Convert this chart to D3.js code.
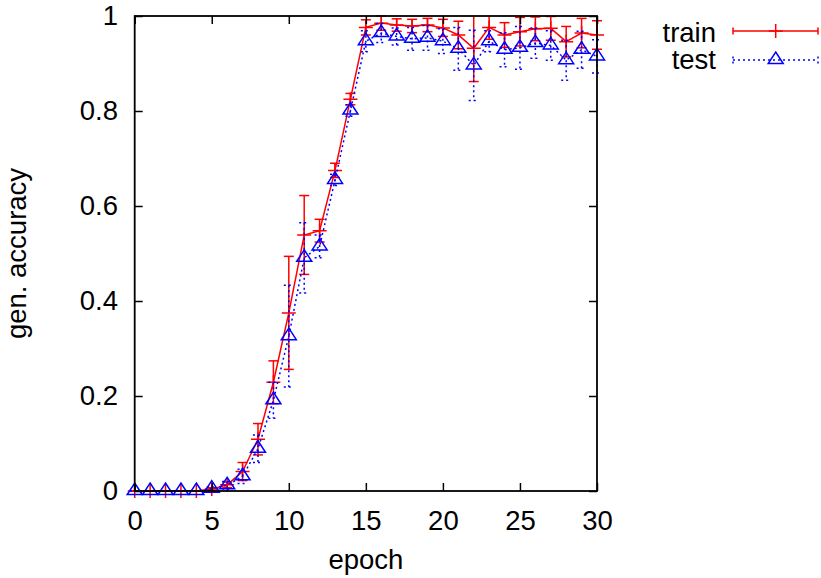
<!DOCTYPE html>
<meta charset="utf-8">
<style>
body { margin: 0; background: #fff; }
text { font-family: "Liberation Sans", Arial, Helvetica, sans-serif; font-size: 27.5px; fill: #000; }
</style>
<body>
<script src="https://cdn.jsdelivr.net/npm/d3@7"></script>
<script>
// data
var epochs = [0,1,2,3,4,5,6,7,8,9,10,11,12,13,14,15,16,17,18,19,20,21,22,23,24,25,26,27,28,29,30];
var trainAcc = [0,0,0,0,0,0.004,0.013,0.041,0.109,0.229,0.375,0.539,0.548,0.675,0.825,0.976,0.985,0.981,0.979,0.981,0.975,0.960,0.932,0.976,0.960,0.967,0.973,0.974,0.946,0.964,0.960];
var trainErr = [0,0,0,0,0,0.003,0.006,0.019,0.033,0.045,0.119,0.083,0.024,0.015,0.012,0.016,0.015,0.013,0.014,0.014,0.018,0.029,0.070,0.025,0.026,0.030,0.025,0.025,0.032,0.031,0.030];
var testAcc = [0,0,0,0,0,0.005,0.012,0.031,0.089,0.191,0.326,0.491,0.515,0.655,0.801,0.947,0.964,0.957,0.952,0.954,0.947,0.931,0.896,0.947,0.929,0.933,0.943,0.938,0.907,0.929,0.915];
var testErr = [0,0,0,0,0,0.004,0.008,0.015,0.029,0.038,0.107,0.074,0.024,0.012,0.012,0.022,0.020,0.018,0.024,0.026,0.026,0.045,0.074,0.022,0.036,0.045,0.032,0.031,0.042,0.039,0.035];
var xTicks = [0,5,10,15,20,25,30];
var xTickLabels = ["0","5","10","15","20","25","30"];
var yTicks = [0,0.2,0.4,0.6,0.8,1];
var yTickLabels = ["0","0.2","0.4","0.6","0.8","1"];
var seriesNames = ["train","test"];

var W = 821, H = 578;
var pl = 134.7, pr = 597, pt = 16, pb = 491;

var x = d3.scaleLinear().domain([0, 30]).range([pl, pr]);
var y = d3.scaleLinear().domain([0, 1]).range([pb, pt]);

var svg = d3.select("body").append("svg")
    .attr("width", W)
    .attr("height", H);
svg.append("rect").attr("width", W).attr("height", H).attr("fill", "#fff");

var train = epochs.map(function(e, i) { return {e: e, v: trainAcc[i], s: trainErr[i]}; });
var test = epochs.map(function(e, i) { return {e: e, v: testAcc[i], s: testErr[i]}; });

function errorbars(g, data, color, dash) {
  var capW = 5;
  data.forEach(function(d) {
    var hi = Math.min(1, d.v + d.s), lo = Math.max(0, d.v - d.s);
    g.append("line")
      .attr("x1", x(d.e)).attr("x2", x(d.e))
      .attr("y1", y(hi)).attr("y2", y(lo))
      .attr("stroke", color).attr("stroke-width", 1.5)
      .attr("stroke-dasharray", dash);
    [[hi, d.v + d.s <= 1], [lo, d.v - d.s >= 0]].forEach(function(c) {
      if (!c[1]) return;
      g.append("line")
        .attr("x1", x(d.e) - capW).attr("x2", x(d.e) + capW)
        .attr("y1", y(c[0])).attr("y2", y(c[0]))
        .attr("stroke", color).attr("stroke-width", 1.5)
        .attr("stroke-dasharray", dash);
    });
  });
}

function plus(g, cx, cy, color) {
  var s = 7;
  g.append("path")
    .attr("d", "M" + (cx - s) + "," + cy + "H" + (cx + s) + "M" + cx + "," + (cy - s) + "V" + (cy + s))
    .attr("stroke", color).attr("stroke-width", 1.5).attr("fill", "none");
}

function triangle(g, cx, cy, color) {
  g.append("path")
    .attr("d", "M" + cx + "," + (cy - 8) + "L" + (cx + 7.5) + "," + (cy + 3.5) + "L" + (cx - 7.5) + "," + (cy + 3.5) + "Z")
    .attr("stroke", color).attr("stroke-width", 1.5).attr("fill", "none");
}

var line = d3.line()
    .x(function(d) { return x(d.e); })
    .y(function(d) { return y(d.v); });

// train series
var gTrain = svg.append("g");
errorbars(gTrain, train, "#ff0000", null);
gTrain.append("path").datum(train)
    .attr("d", line)
    .attr("fill", "none").attr("stroke", "#ff0000").attr("stroke-width", 1.5);
train.forEach(function(d) { plus(gTrain, x(d.e), y(d.v), "#ff0000"); });

// test series
var gTest = svg.append("g");
errorbars(gTest, test, "#0000ff", "2,3");
gTest.append("path").datum(test)
    .attr("d", line)
    .attr("fill", "none").attr("stroke", "#0000ff").attr("stroke-width", 1.5)
    .attr("stroke-dasharray", "2,3");
test.forEach(function(d) { triangle(gTest, x(d.e), y(d.v), "#0000ff"); });

// axes, ticks on all four sides pointing in
svg.append("g")
    .attr("transform", "translate(0," + pb + ")")
    .call(d3.axisBottom(x).tickValues(xTicks)
      .tickFormat(function(d, i) { return xTickLabels[i]; })
      .tickSizeInner(-8).tickSizeOuter(0).tickPadding(19.5))
    .call(function(g) { g.select(".domain").remove(); });
svg.append("g")
    .attr("transform", "translate(0," + pt + ")")
    .call(d3.axisTop(x).tickValues(xTicks).tickFormat("")
      .tickSizeInner(-8).tickSizeOuter(0))
    .call(function(g) { g.select(".domain").remove(); });
svg.append("g")
    .attr("transform", "translate(" + pl + ",0)")
    .call(d3.axisLeft(y).tickValues(yTicks)
      .tickFormat(function(d, i) { return yTickLabels[i]; })
      .tickSizeInner(-8).tickSizeOuter(0).tickPadding(16.7))
    .call(function(g) { g.select(".domain").remove(); });
svg.append("g")
    .attr("transform", "translate(" + pr + ",0)")
    .call(d3.axisRight(y).tickValues(yTicks).tickFormat("")
      .tickSizeInner(-8).tickSizeOuter(0))
    .call(function(g) { g.select(".domain").remove(); });

svg.selectAll(".tick line").attr("stroke", "#000").attr("stroke-width", 1.5);
svg.selectAll(".tick text")
    .style("font-family", "'Liberation Sans', Arial, Helvetica, sans-serif")
    .style("font-size", "27.5px")
    .attr("fill", "#000");

svg.append("rect")
    .attr("x", pl).attr("y", pt)
    .attr("width", pr - pl).attr("height", pb - pt)
    .attr("fill", "none").attr("stroke", "#000").attr("stroke-width", 1.8);

// axis titles
svg.append("text")
    .attr("x", (pl + pr) / 2)
    .attr("y", 569)
    .style("text-anchor", "middle")
    .text("epoch");
svg.append("text")
    .attr("transform", "translate(26," + ((pt + pb) / 2) + ") rotate(-90)")
    .style("text-anchor", "middle")
    .text("gen. accuracy");

// legend
var lg = svg.append("g");
var lx1 = 733, lx2 = 818, lxm = 775.7;
lg.append("text").attr("x", 716).attr("y", 42).style("text-anchor", "end").text(seriesNames[0]);
lg.append("path")
    .attr("d", "M" + lx1 + ",31H" + lx2 + "M" + lx1 + ",27.5V34.5M" + lx2 + ",27.5V34.5")
    .attr("stroke", "#ff0000").attr("stroke-width", 1.5).attr("fill", "none");
plus(lg, lxm, 31, "#ff0000");
lg.append("text").attr("x", 716).attr("y", 69).style("text-anchor", "end").text(seriesNames[1]);
lg.append("path")
    .attr("d", "M" + lx1 + ",60H" + lx2 + "M" + lx1 + ",56.5V63.5M" + lx2 + ",56.5V63.5")
    .attr("stroke", "#0000ff").attr("stroke-width", 1.5).attr("fill", "none")
    .attr("stroke-dasharray", "2,3");
triangle(lg, lxm, 60, "#0000ff");
</script>
</body>
